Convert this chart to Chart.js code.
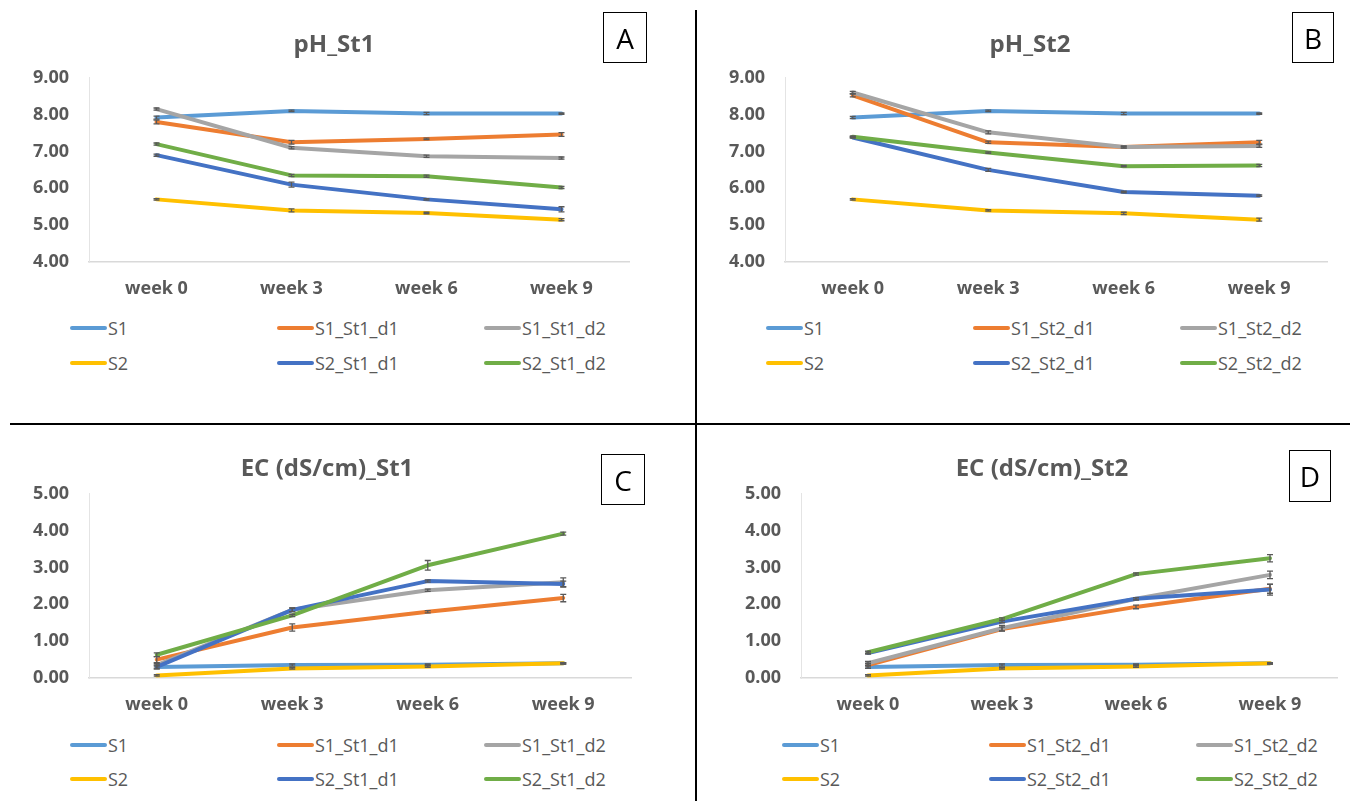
<!DOCTYPE html>
<html>
<head>
<meta charset="utf-8">
<script src="https://cdn.jsdelivr.net/npm/chart.js@4.4.1/dist/chart.umd.min.js"></script>
<style>
  body { margin: 0; width: 1350px; height: 801px; background: #fff; position: relative; overflow: hidden; font-family: "Open Sans", sans-serif; }
  canvas { position: absolute; }
  .title { position: absolute; transform: translate(-50%, -50%); font-weight: bold; font-size: 24px; color: #595959; white-space: nowrap; }
  .letter { position: absolute; border: 1.5px solid #000; box-sizing: border-box; font-size: 28px; color: #000; display: flex; align-items: center; justify-content: center; }
  .swatch { position: absolute; height: 4px; border-radius: 2px; }
  .leg { position: absolute; transform: translateY(-50%); font-size: 18px; color: #595959; white-space: nowrap; }
  .rule { position: absolute; background: #000; }
</style>
</head>
<body>
<script>
const weeks = ["week 0", "week 3", "week 6", "week 9"];
const colors = ["#5B9BD5", "#ED7D31", "#A5A5A5", "#FFC000", "#4472C4", "#70AD47"];

const namesSt1 = ["S1", "S1_St1_d1", "S1_St1_d2", "S2", "S2_St1_d1", "S2_St1_d2"];
const namesSt2 = ["S1", "S1_St2_d1", "S1_St2_d2", "S2", "S2_St2_d1", "S2_St2_d2"];

// pH, storage 1
const phSt1 = [
  [7.92, 8.10, 8.03, 8.03],
  [7.80, 7.25, 7.34, 7.46],
  [8.15, 7.10, 6.87, 6.82],
  [5.70, 5.40, 5.33, 5.15],
  [6.90, 6.10, 5.70, 5.43],
  [7.20, 6.35, 6.33, 6.02]
];
const phSt1Err = [
  [0.04, 0.02, 0.03, 0.02],
  [0.05, 0.05, 0.02, 0.05],
  [0.03, 0.03, 0.03, 0.03],
  [0.02, 0.04, 0.02, 0.03],
  [0.03, 0.07, 0.02, 0.07],
  [0.03, 0.03, 0.03, 0.03]
];

// pH, storage 2
const phSt2 = [
  [7.92, 8.10, 8.03, 8.03],
  [8.52, 7.25, 7.12, 7.25],
  [8.60, 7.52, 7.12, 7.15],
  [5.70, 5.40, 5.32, 5.15],
  [7.38, 6.50, 5.90, 5.80],
  [7.40, 6.97, 6.60, 6.62]
];
const phSt2Err = [
  [0.03, 0.02, 0.03, 0.02],
  [0.04, 0.03, 0.02, 0.05],
  [0.03, 0.04, 0.03, 0.04],
  [0.02, 0.02, 0.03, 0.04],
  [0.02, 0.04, 0.02, 0.02],
  [0.02, 0.02, 0.02, 0.03]
];

// EC (dS/cm), storage 1
const ecSt1 = [
  [0.30, 0.35, 0.36, 0.40],
  [0.50, 1.37, 1.80, 2.17],
  [0.35, 1.85, 2.38, 2.60],
  [0.07, 0.26, 0.31, 0.40],
  [0.30, 1.85, 2.63, 2.55],
  [0.63, 1.70, 3.06, 3.92]
];
const ecSt1Err = [
  [0.05, 0.03, 0.02, 0.02],
  [0.08, 0.10, 0.03, 0.10],
  [0.05, 0.05, 0.03, 0.12],
  [0.02, 0.02, 0.02, 0.02],
  [0.05, 0.05, 0.03, 0.08],
  [0.05, 0.03, 0.13, 0.04]
];

// EC (dS/cm), storage 2
const ecSt2 = [
  [0.30, 0.35, 0.36, 0.40],
  [0.35, 1.33, 1.93, 2.42],
  [0.40, 1.35, 2.15, 2.80],
  [0.07, 0.26, 0.31, 0.40],
  [0.68, 1.53, 2.15, 2.40],
  [0.70, 1.60, 2.82, 3.25]
];
const ecSt2Err = [
  [0.04, 0.03, 0.02, 0.02],
  [0.05, 0.05, 0.05, 0.12],
  [0.05, 0.08, 0.03, 0.10],
  [0.02, 0.02, 0.02, 0.02],
  [0.03, 0.03, 0.03, 0.15],
  [0.03, 0.03, 0.03, 0.10]
];

const phTicks = [4, 9];
const ecTicks = [0, 5];

// small I-shaped error bars, like the excel ones
const errorBars = {
  id: "errorBars",
  afterDatasetsDraw(chart) {
    const ctx = chart.ctx;
    const yScale = chart.scales.y;
    ctx.save();
    ctx.strokeStyle = "#595959";
    ctx.lineWidth = 1.3;
    chart.data.datasets.forEach((ds, di) => {
      const meta = chart.getDatasetMeta(di);
      meta.data.forEach((pt, i) => {
        const e = ds.err[i];
        const y1 = yScale.getPixelForValue(ds.data[i] + e);
        const y2 = yScale.getPixelForValue(ds.data[i] - e);
        ctx.beginPath();
        ctx.moveTo(pt.x, y1); ctx.lineTo(pt.x, y2);
        ctx.moveTo(pt.x - 3, y1); ctx.lineTo(pt.x + 3, y1);
        ctx.moveTo(pt.x - 3, y2); ctx.lineTo(pt.x + 3, y2);
        ctx.stroke();
      });
    });
    ctx.restore();
  }
};

function addEl(cls, css, text) {
  const d = document.createElement("div");
  d.className = cls;
  Object.assign(d.style, css);
  if (text) d.textContent = text;
  document.body.appendChild(d);
  return d;
}

function panel(p) {
  const cv = document.createElement("canvas");
  Object.assign(cv.style, { left: p.box.x + "px", top: p.box.y + "px", width: p.box.w + "px", height: p.box.h + "px" });
  cv.width = p.box.w; cv.height = p.box.h;
  document.body.appendChild(cv);

  const datasets = p.values.map((v, i) => ({
    label: p.names[i],
    data: v,
    err: p.errs[i],
    borderColor: colors[i],
    backgroundColor: colors[i],
    borderWidth: 4,
    pointRadius: 0,
    tension: 0,
    borderCapStyle: "round",
    borderJoinStyle: "round",
    order: 6 - i
  }));

  new Chart(cv, {
    type: "line",
    data: { labels: weeks, datasets },
    plugins: [errorBars],
    options: {
      responsive: false,
      animation: false,
      // chart.js keeps ~30px on top for the first tick label, so the canvas starts 30px above the plot
      layout: { padding: { left: 0, top: 0, right: p.box.x + p.box.w - p.area.r, bottom: 0 } },
      plugins: { legend: { display: false }, tooltip: { enabled: false } },
      scales: {
        x: {
          type: "category",
          offset: true,
          grid: { display: false, drawTicks: false },
          border: { display: true, color: "#d9d9d9", width: 1.5 },
          ticks: { padding: 16, color: "#595959", font: { family: "Open Sans", weight: "bold", size: 18 } },
          afterFit: s => { s.height = p.box.y + p.box.h - p.area.b - 2; }
        },
        y: {
          min: p.ticks[0], max: p.ticks[1],
          grid: { display: false, drawTicks: false },
          border: { display: true, color: "#e4e4e4", width: 1 },
          ticks: { stepSize: 1, padding: 20, color: "#595959", font: { family: "Open Sans", weight: "bold", size: 18 },
                   callback: v => Number(v).toFixed(2) },
          afterFit: s => { s.width = p.area.l - p.box.x; }
        }
      }
    }
  });

  addEl("title", { left: p.title.x + "px", top: p.title.y + "px" }, p.title.text);
  addEl("letter", { left: p.letter.x + "px", top: p.letter.y + "px", width: p.letter.w + "px", height: p.letter.h + "px" }, p.letter.text);

  p.names.forEach((n, i) => {
    const col = p.legend.cols[i % 3];
    const row = p.legend.rows[Math.floor(i / 3)];
    addEl("swatch", { left: col + "px", top: (row - 2) + "px", width: "37px", background: colors[i] });
    addEl("leg", { left: (col + 38) + "px", top: row + "px" }, n);
  });
}

panel({
  values: phSt1, errs: phSt1Err, names: namesSt1, ticks: phTicks,
  box: { x: 0, y: 47, w: 668, h: 258 }, area: { l: 89, r: 629, b: 260 },
  title: { x: 334, y: 42, text: "pH_St1" },
  letter: { x: 603, y: 12, w: 44, h: 51, text: "A" },
  legend: { cols: [70, 277, 484], rows: [328, 363] }
});
panel({
  values: phSt2, errs: phSt2Err, names: namesSt2, ticks: phTicks,
  box: { x: 700, y: 47, w: 645, h: 258 }, area: { l: 785, r: 1327, b: 260 },
  title: { x: 1030, y: 42, text: "pH_St2" },
  letter: { x: 1292, y: 12, w: 42, h: 51, text: "B" },
  legend: { cols: [766, 973, 1180], rows: [328, 363] }
});
panel({
  values: ecSt1, errs: ecSt1Err, names: namesSt1, ticks: ecTicks,
  box: { x: 0, y: 463, w: 668, h: 257 }, area: { l: 89, r: 631, b: 676 },
  title: { x: 327, y: 466, text: "EC (dS/cm)_St1" },
  letter: { x: 601, y: 454, w: 44, h: 51, text: "C" },
  legend: { cols: [70, 277, 484], rows: [745, 779] }
});
panel({
  values: ecSt2, errs: ecSt2Err, names: namesSt2, ticks: ecTicks,
  box: { x: 700, y: 463, w: 645, h: 257 }, area: { l: 801, r: 1337, b: 676 },
  title: { x: 1042, y: 466, text: "EC (dS/cm)_St2" },
  letter: { x: 1289, y: 450, w: 42, h: 52, text: "D" },
  legend: { cols: [782, 989, 1196], rows: [745, 779] }
});

// panel dividers
addEl("rule", { left: "695px", top: "10px", width: "2px", height: "791px" });
addEl("rule", { left: "10px", top: "423px", width: "1340px", height: "2px" });
</script>
</body>
</html>
